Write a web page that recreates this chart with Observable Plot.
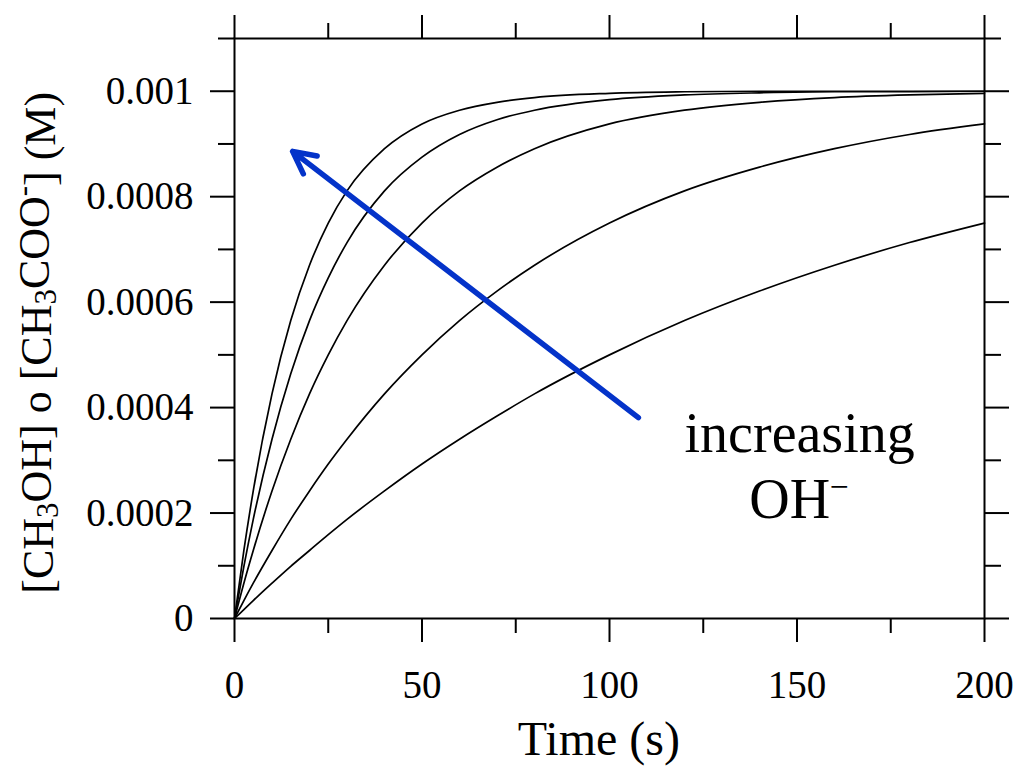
<!DOCTYPE html>
<html>
<head>
<meta charset="utf-8">
<script src="https://cdn.jsdelivr.net/npm/d3@7"></script>
<script src="https://cdn.jsdelivr.net/npm/@observablehq/plot@0.6"></script>
<style>
  html, body { margin: 0; padding: 0; background: #fff; }
  svg { display: block; }
</style>
</head>
<body>
<div id="chart"></div>
<script>
// Time samples (s)
const times = [0, 2.5, 5, 10, 15, 20, 25, 30, 40, 50, 60, 70, 80, 100, 120, 140, 160, 180, 200];
// Concentration (M), one array per curve (fastest first)
const curve1 = [0, 0.000129, 0.000242, 0.000426, 0.000565, 0.000670, 0.000750, 0.000811, 0.000891, 0.000938, 0.000964, 0.000979, 0.000988, 0.000996, 0.000999, 0.001, 0.001, 0.001, 0.001];
const curve2 = [0, 0.000099, 0.000188, 0.000340, 0.000464, 0.000565, 0.000646, 0.000713, 0.000811, 0.000875, 0.000918, 0.000946, 0.000964, 0.000984, 0.000993, 0.000997, 0.000999, 0.000999, 0.001];
const curve3 = [0, 0.000067, 0.000129, 0.000242, 0.000340, 0.000426, 0.000500, 0.000565, 0.000670, 0.000750, 0.000811, 0.000856, 0.000891, 0.000938, 0.000964, 0.000979, 0.000988, 0.000993, 0.000996];
const curve4 = [0, 0.000034, 0.000067, 0.000129, 0.000188, 0.000242, 0.000293, 0.000340, 0.000426, 0.000500, 0.000565, 0.000621, 0.000670, 0.000750, 0.000811, 0.000856, 0.000891, 0.000918, 0.000938];
const curve5 = [0, 0.000017, 0.000034, 0.000067, 0.000099, 0.000129, 0.000159, 0.000188, 0.000242, 0.000293, 0.000340, 0.000384, 0.000426, 0.000500, 0.000565, 0.000621, 0.000670, 0.000713, 0.000750];

// Tick values and labels
const xMajorTicks = [0, 50, 100, 150, 200];
const xMinorTicks = [25, 75, 125, 175];
const yMajorTicks = [0, 0.0002, 0.0004, 0.0006, 0.0008, 0.001];
const yMajorLabels = ["0", "0.0002", "0.0004", "0.0006", "0.0008", "0.001"];
const yMinorTicks = [0.0001, 0.0003, 0.0005, 0.0007, 0.0009, 0.0011];

// Annotation (data coordinates)
const arrowData = [{x1: 107.7, y1: 0.000381, x2: 15.5, y2: 0.000886}];
const annoText = [{x: 150.7, y: 0.000316, text: "increasing"}];
const annoOH = {x: 150.7, y: 0.000189, text: "OH", sup: "\u2212"};

const series = [curve1, curve2, curve3, curve4, curve5];
const data = series.flatMap((vals, i) => vals.map((c, j) => ({t: times[j], c, s: i})));

const font = "'Liberation Serif', 'Times New Roman', serif";
const labelOf = new Map(yMajorTicks.map((v, i) => [v, yMajorLabels[i]]));
const blank = () => "";

const W = 1017, H = 768;
const chart = Plot.plot({
  width: W,
  height: H,
  marginLeft: 234,
  marginRight: 33,
  marginTop: 38,
  marginBottom: 150,
  style: {fontFamily: font, background: "#fff", color: "#000", overflow: "visible"},
  x: {domain: [0, 200]},
  y: {domain: [0, 0.0011]},
  marks: [
    Plot.line(data, {x: "t", y: "c", z: "s", stroke: "#000", strokeWidth: 1.7, curve: "monotone-x"}),
    Plot.arrow(arrowData, {x1: "x1", y1: "y1", x2: "x2", y2: "y2", stroke: "#0433c9", strokeWidth: 5.5, headLength: 6.8, headAngle: 54}),
    Plot.text(annoText, {x: "x", y: "y", text: "text", fontSize: 56, lineAnchor: "bottom", textAnchor: "middle", fill: "#000"}),
    Plot.frame({stroke: "#000", strokeWidth: 2}),
    // bottom
    Plot.axisX({anchor: "bottom", ticks: xMajorTicks, tickSize: 24, tickPadding: 28, fontSize: 39, label: null, strokeWidth: 2, tickFormat: d => String(d)}),
    Plot.axisX({anchor: "bottom", ticks: xMinorTicks, tickSize: 15, tickFormat: blank, label: null, strokeWidth: 2}),
    // top
    Plot.axisX({anchor: "top", ticks: xMajorTicks, tickSize: 24, tickFormat: blank, label: null, strokeWidth: 2}),
    Plot.axisX({anchor: "top", ticks: xMinorTicks, tickSize: 16, tickFormat: blank, label: null, strokeWidth: 2}),
    // left
    Plot.axisY({anchor: "left", ticks: yMajorTicks, tickSize: 24, tickPadding: 17, fontSize: 39, label: null, strokeWidth: 2, tickFormat: d => labelOf.get(d)}),
    Plot.axisY({anchor: "left", ticks: yMinorTicks, tickSize: 16, tickFormat: blank, label: null, strokeWidth: 2}),
    // right
    Plot.axisY({anchor: "right", ticks: yMajorTicks, tickSize: 24, tickFormat: blank, label: null, strokeWidth: 2}),
    Plot.axisY({anchor: "right", ticks: yMinorTicks, tickSize: 16, tickFormat: blank, label: null, strokeWidth: 2})
  ]
});

const svg = d3.select(chart);
const xs = chart.scale("x"), ys = chart.scale("y");

// "OH−" annotation, one text with a superscript minus
const oh = svg.append("text")
  .attr("x", xs.apply(annoOH.x))
  .attr("y", ys.apply(annoOH.y))
  .attr("text-anchor", "middle")
  .attr("font-family", font)
  .attr("font-size", 56)
  .attr("fill", "#000");
oh.append("tspan").text(annoOH.text);
oh.append("tspan").attr("font-size", "0.6em").attr("dy", "-0.62em").text(annoOH.sup);

// x-axis title
svg.append("text")
  .attr("x", xs.apply(97.3))
  .attr("y", 755)
  .attr("text-anchor", "middle")
  .attr("font-family", font)
  .attr("font-size", 48)
  .attr("fill", "#000")
  .text("Time (s)");

// y-axis title with sub/superscripts
const yt = svg.append("text")
  .attr("transform", `translate(53, ${ys.apply(0.000522)}) rotate(-90)`)
  .attr("text-anchor", "middle")
  .attr("font-family", font)
  .attr("font-size", 44)
  .attr("fill", "#000");
yt.append("tspan").text("[CH");
yt.append("tspan").attr("font-size", "0.7em").attr("dy", "0.16em").text("3");
yt.append("tspan").attr("dy", "-0.16em").text("OH] o [CH");
yt.append("tspan").attr("font-size", "0.7em").attr("dy", "0.16em").text("3");
yt.append("tspan").attr("dy", "-0.16em").text("COO");
yt.append("tspan").attr("font-size", "0.7em").attr("dy", "-0.5em").text("-");
yt.append("tspan").attr("dy", "0.5em").text("] (M)");

document.getElementById("chart").appendChild(chart);
</script>
</body>
</html>
